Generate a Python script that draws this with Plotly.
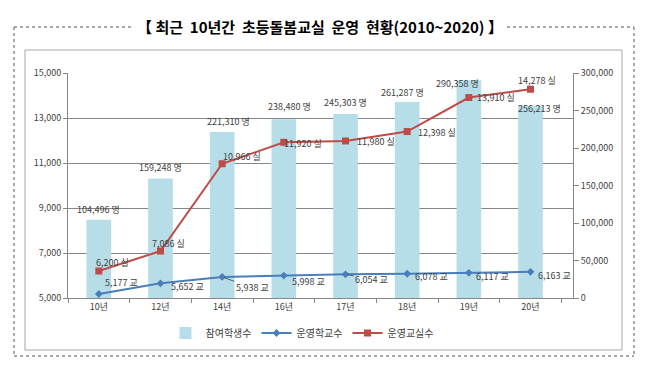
import plotly.graph_objects as go

# ---- data ----
categories = ["10년", "12년", "14년", "16년", "17년", "18년", "19년", "20년"]
students = [104496, 159248, 221310, 238480, 245303, 261287, 290358, 256213]
schools = [5177, 5652, 5938, 5998, 6054, 6078, 6117, 6163]
classrooms = [6200, 7086, 10966, 11920, 11980, 12398, 13910, 14278]
left_ticks = [5000, 7000, 9000, 11000, 13000, 15000]
right_ticks = [0, 50000, 100000, 150000, 200000, 250000, 300000]
title_text = "【 최근  10년간  초등돌봄교실  운영  현황(2010~2020) 】"

# ---- label offsets (pixels: dx, dy with dy positive = down) ----
student_off = [(0, -10), (0, -11), (6, -11), (6, -13), (0, -12), (-5, -10), (-11, 3), (9, 3)]
class_off = [(14, -9), (8, -8), (20, -7), (19, 1), (30, 1), (30, 1), (27, 0), (6, -9)]
school_off = [(23, -12), (27, 3), (30, 11), (25, 6), (26, 5), (24, 3), (24, 4), (24, 4)]
leader = [False, False, True, False, True, False, False, False]

FONT = "Noto Sans CJK KR"
PW, PH = 656, 375          # page size
OFF = 8                    # default body margin of the html page
L, R, T, B = 68, 573, 73, 298   # plot area in page pixels

fig = go.Figure()
fig.add_trace(go.Bar(
    x=categories, y=students, name="참여학생수", yaxis="y",
    marker=dict(color="#B7DEE8", line=dict(width=0)),
))
fig.add_trace(go.Scatter(
    x=categories, y=schools, name="운영학교수", yaxis="y2", mode="lines+markers",
    line=dict(color="#4A7EBB", width=2),
    marker=dict(symbol="diamond", size=6, color="#4A7EBB"),
))
fig.add_trace(go.Scatter(
    x=categories, y=classrooms, name="운영교실수", yaxis="y2", mode="lines+markers",
    line=dict(color="#BE4B48", width=2),
    marker=dict(symbol="square", size=7, color="#BE4B48"),
))

def fmt(v):
    return f"{v:,}"

ann = []
lab_font = dict(family=FONT, size=9, color="#404040")
for i, c in enumerate(categories):
    dx, dy = student_off[i]
    ann.append(dict(x=c, y=students[i], xref="x", yref="y", text=fmt(students[i]) + " 명",
                    showarrow=False, xshift=dx, yshift=-dy, font=lab_font))
    dx, dy = class_off[i]
    ann.append(dict(x=c, y=classrooms[i], xref="x", yref="y2", text=fmt(classrooms[i]) + " 실",
                    showarrow=False, xshift=dx, yshift=-dy, font=lab_font))
    dx, dy = school_off[i]
    if leader[i]:
        ann.append(dict(x=c, y=schools[i], xref="x", yref="y2", text=fmt(schools[i]) + " 교",
                        showarrow=True, ax=dx, ay=dy, arrowhead=0, arrowwidth=0.8,
                        arrowcolor="#404040", standoff=2, font=lab_font))
    else:
        ann.append(dict(x=c, y=schools[i], xref="x", yref="y2", text=fmt(schools[i]) + " 교",
                        showarrow=False, xshift=dx, yshift=-dy, font=lab_font))

def px(xp):
    return (xp - L) / (R - L)

def py(yp):
    return (B - yp) / (B - T)

ann.append(dict(x=px(320), y=py(26), xref="paper", yref="paper",
                text="<b>" + title_text.replace("  ", " \u00a0") + "</b>",
                showarrow=False, font=dict(family=FONT, size=15, color="#000000"),
                xanchor="center", yanchor="middle"))

shapes = []
dot = dict(color="#555555", width=1, dash="dot")
for (x0, y0, x1, y1) in [(14, 27, 134, 27), (507, 27, 634, 27), (14, 27, 14, 356),
                         (634, 27, 634, 356), (14, 356, 634, 356)]:
    shapes.append(dict(type="line", xref="paper", yref="paper", x0=px(x0), y0=py(y0),
                       x1=px(x1), y1=py(y1), line=dot))
shapes.append(dict(type="rect", xref="paper", yref="paper", x0=px(25), y0=py(50), x1=px(622), y1=py(350),
                   line=dict(color="#A6A6A6", width=1), layer="below"))

axis_font = dict(family=FONT, size=9, color="#404040")
fig.update_layout(
    width=PW - OFF, height=PH - OFF,
    margin=dict(l=L - OFF, r=PW - R, t=T - OFF, b=PH - B),
    paper_bgcolor="white", plot_bgcolor="white",
    bargap=0.6,
    showlegend=True,
    legend=dict(orientation="h", x=px(302), y=py(333), xanchor="center", yanchor="middle",
                font=dict(family=FONT, size=10, color="#404040"), itemwidth=30,
                bgcolor="rgba(0,0,0,0)", tracegroupgap=0),
    xaxis=dict(type="category", showgrid=False, showline=True, linecolor="#868686",
               ticks="outside", tickson="boundaries", ticklen=4, tickcolor="#868686",
               tickfont=axis_font, fixedrange=True),
    yaxis=dict(side="right", range=[0, 300000], tickvals=right_ticks,
               ticktext=[fmt(v) for v in right_ticks], showgrid=False,
               showline=True, linecolor="#868686", ticks="outside", ticklen=5,
               tickcolor="#868686", tickfont=axis_font, zeroline=False),
    yaxis2=dict(side="left", overlaying="y", range=[5000, 15000], tickvals=left_ticks,
                ticktext=[fmt(v) for v in left_ticks], showgrid=True, gridcolor="#868686",
                gridwidth=1, showline=True, linecolor="#868686", ticks="outside", ticklen=4,
                tickcolor="#868686", tickfont=axis_font, zeroline=False),
    annotations=ann,
    shapes=shapes,
)

fig.write_html("out.html")
